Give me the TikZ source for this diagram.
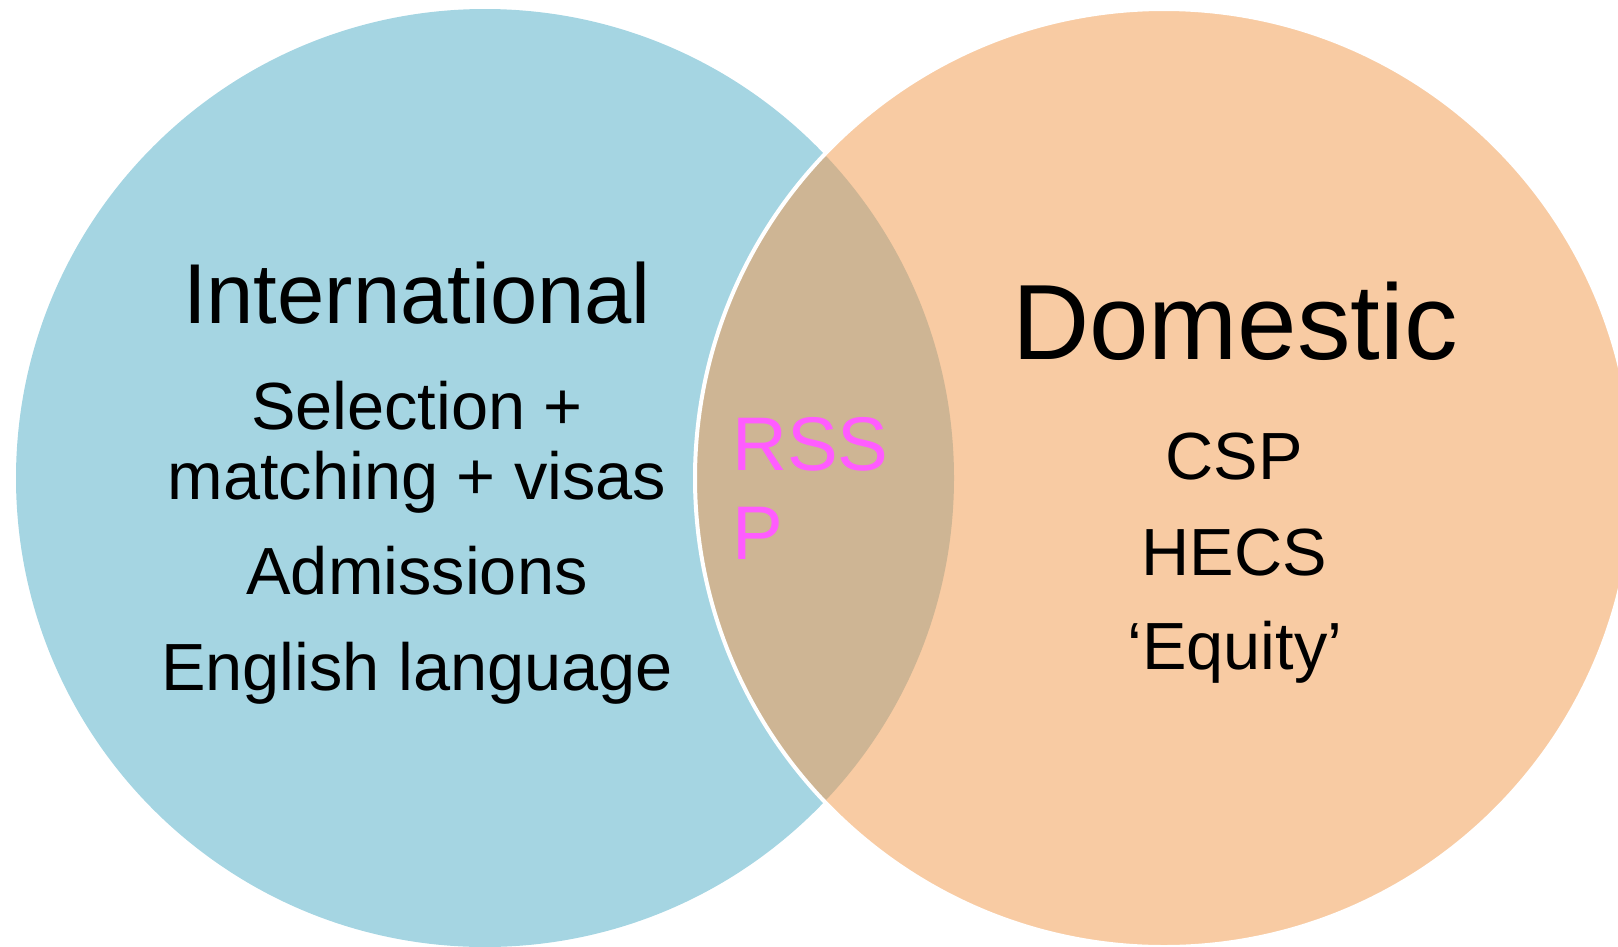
\documentclass[tikz,border=0pt]{standalone}
\usepackage{fontspec}
\setmainfont{Liberation Sans}
\usepackage{xcolor}
\definecolor{intblue}{RGB}{165,213,226}
\definecolor{domorange}{RGB}{248,203,163}
\definecolor{overlap}{RGB}{206,181,148}
\definecolor{rsspink}{RGB}{255,92,255}

\begin{document}
\begin{tikzpicture}[x=1pt,y=-1pt,
  heading/.style={anchor=base,inner sep=0pt,font=\fontsize{85}{100}\selectfont},
  entry/.style={anchor=base,inner sep=0pt,font=\fontsize{66.7}{79}\selectfont},
  shared/.style={anchor=base west,inner sep=0pt,text=rsspink,font=\fontsize{76}{90}\selectfont}]
\useasboundingbox (0,0) rectangle (1618,946);
\fill[intblue] (485,478) circle[radius=469pt];
\fill[domorange] (1164,478) circle[radius=469pt];
\begin{scope}
\clip (485,478) circle[radius=469pt];
\fill[overlap] (1164,478) circle[radius=469pt];
\end{scope}
\draw[white,line width=4pt] (1164,478) circle[radius=469pt];
% international side
\node[heading] (intl) at (417,323) {International};
\node[entry] (select) at (417,429) {Selection +};
\node[entry] (match) at (417,499) {matching + visas};
\node[entry] (admit) at (417,594) {Admissions};
\node[entry] (english) at (417,690) {English language};
% domestic side
\node[heading,font=\fontsize{107}{128}\selectfont] (dom) at (1235,359) {Domestic};
\node[entry] (csp) at (1234,479) {CSP};
\node[entry] (hecs) at (1234,575) {HECS};
\node[entry] (equity) at (1235,669) {‘Equity’};
% overlap
\node[shared] (rss) at (732,470) {RSS};
\node[shared] (rssp) at (732,559) {P};
\end{tikzpicture}
\end{document}
